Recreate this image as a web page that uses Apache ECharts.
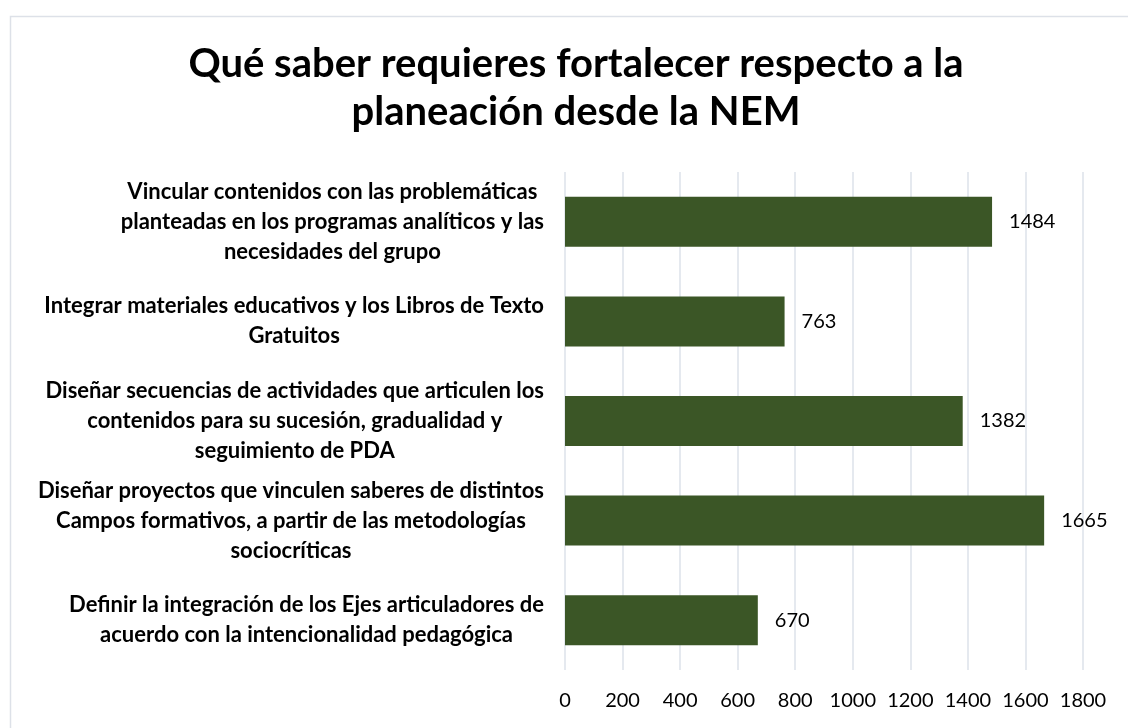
<!DOCTYPE html>
<html>
<head>
<meta charset="utf-8">
<script src="https://cdn.jsdelivr.net/npm/echarts@6/dist/echarts.min.js"></script>
<style>
html,body{margin:0;padding:0;background:#fff;overflow:hidden}
#c{width:1128px;height:728px}
</style>
</head>
<body>
<div id="c"></div>
<script>
const titleText = "Qué saber requieres fortalecer respecto a la\nplaneación desde la NEM";
const categories = [
  "Vincular contenidos con las problemáticas\nplanteadas en los programas analíticos y las\nnecesidades del grupo",
  "Integrar materiales educativos y los Libros de Texto\nGratuitos",
  "Diseñar secuencias de actividades que articulen los\ncontenidos para su sucesión, gradualidad y\nseguimiento de PDA",
  "Diseñar proyectos que vinculen saberes de distintos\nCampos formativos, a partir de las metodologías\nsociocríticas",
  "Definir la integración de los Ejes articuladores de\nacuerdo con la intencionalidad pedagógica"
];
const values = [1484, 763, 1382, 1665, 670];
const xTicks = { min: 0, max: 1800, interval: 200 };

const FONT = "Lato, 'Open Sans', sans-serif";
const chart = echarts.init(document.getElementById('c'));
chart.setOption({
  backgroundColor: '#fff',
  animation: false,
  graphic: [{
    type: 'rect', left: 8, top: 14, silent: true,
    shape: { width: 1300, height: 900 },
    style: { fill: 'none', stroke: '#dde1e8', lineWidth: 1.5 }
  }],
  title: {
    text: titleText,
    left: 571, top: 35, textAlign: 'center',
    textStyle: { fontFamily: FONT, fontWeight: 'bold', fontSize: 40, lineHeight: 48, color: '#000' }
  },
  grid: { left: 565, right: 45, top: 172, bottom: 58, containLabel: false },
  xAxis: {
    type: 'value', min: xTicks.min, max: xTicks.max, interval: xTicks.interval,
    axisLine: { show: false }, axisTick: { show: false },
    splitLine: { show: true, lineStyle: { color: '#dde2ea', width: 1.5 } },
    axisLabel: { fontFamily: FONT, fontSize: 20, color: '#000', margin: 21, formatter: function (v) { return String(v); } }
  },
  yAxis: {
    type: 'category', inverse: true, data: categories,
    axisLine: { show: false }, axisTick: { show: false },
    axisLabel: {
      margin: 21, align: 'right',
      formatter: function (v) { return v.split('\n').map(function (l) { return '{c|' + l + '}'; }).join('\n'); },
      rich: { c: { align: 'center', fontFamily: FONT, fontWeight: 'bold', fontSize: 22, lineHeight: 30, color: '#000' } }
    }
  },
  series: [{
    type: 'bar', data: values, barWidth: 50,
    itemStyle: { color: '#3b5626' },
    label: { show: true, position: 'right', distance: 17, fontFamily: FONT, fontSize: 20, color: '#000' }
  }]
});
</script>
</body>
</html>
